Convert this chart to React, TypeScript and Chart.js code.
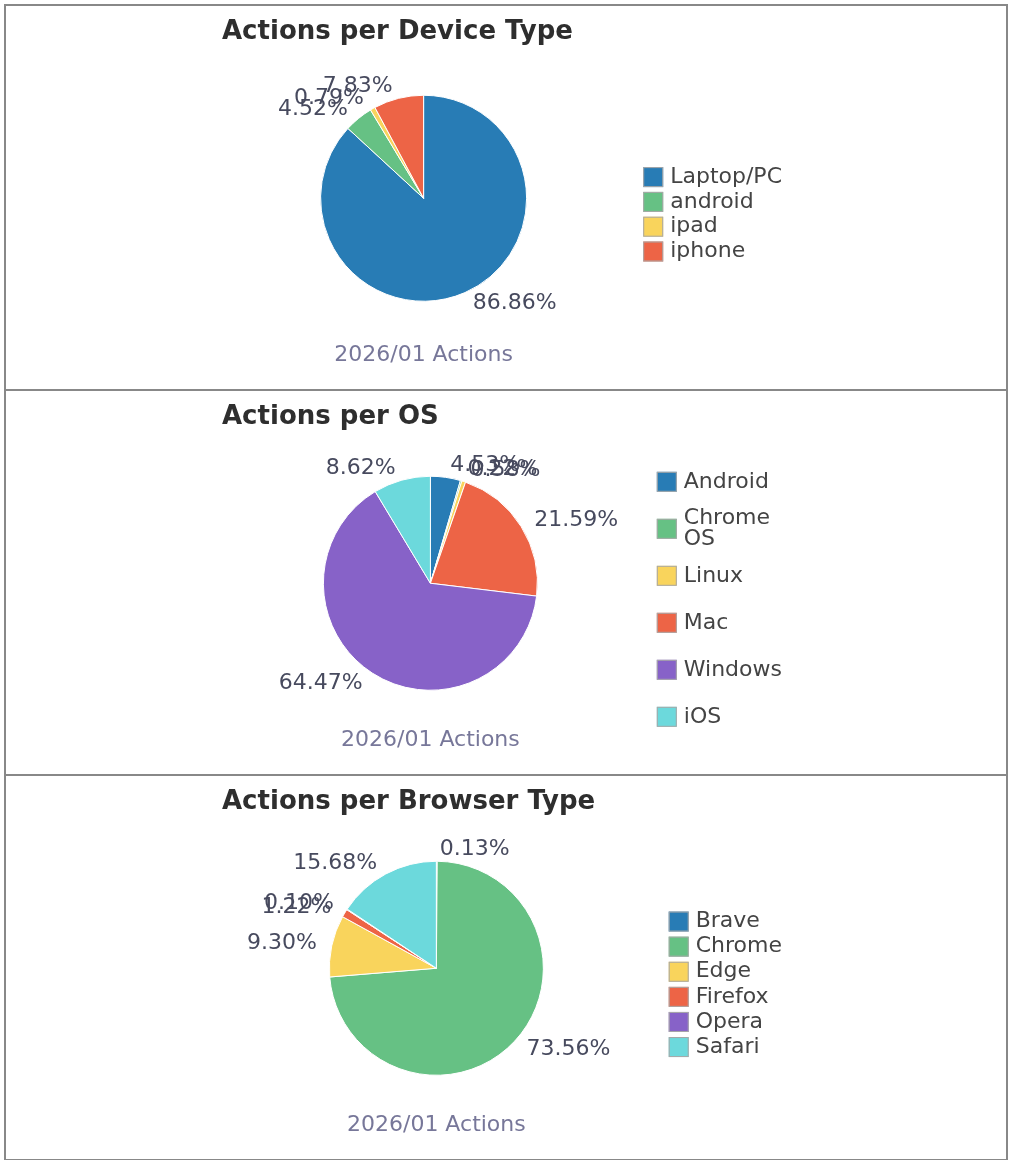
import React, { useEffect, useRef } from 'react';
import { Chart, registerables } from 'chart.js';

Chart.register(...registerables);

const FONT = "'DejaVu Sans', Verdana, sans-serif";

const deviceLabels = ['Laptop/PC', 'android', 'ipad', 'iphone'];
const deviceValues = [86.86, 4.52, 0.79, 7.83];

const osLabels = ['Android', 'Chrome OS', 'Linux', 'Mac', 'Windows', 'iOS'];
const osValues = [4.53, 0.22, 0.58, 21.59, 64.47, 8.62];

const browserLabels = ['Brave', 'Chrome', 'Edge', 'Firefox', 'Opera', 'Safari'];
const browserValues = [0.13, 73.56, 9.3, 1.22, 0.1, 15.68];

const SUBTITLE = '2026/01 Actions';

const BLUE = '#287cb5';
const GREEN = '#66c184';
const YELLOW = '#f9d45c';
const RED = '#ed6446';
const PURPLE = '#8762c8';
const CYAN = '#6cd9dc';

const deviceColors = [BLUE, GREEN, YELLOW, RED];
const osColors = [BLUE, GREEN, YELLOW, RED, PURPLE, CYAN];
const browserColors = [BLUE, GREEN, YELLOW, RED, PURPLE, CYAN];

const LABEL_COLOR = '#474a5e';
const LEGEND_COLOR = '#444444';
const W = 1000;
const H = 383;

function wrapText(ctx: CanvasRenderingContext2D, text: string, maxW: number): string[] {
  const words = text.split(' ');
  if (words.length < 2 || ctx.measureText(text).width <= maxW) return [text];
  const lines: string[] = [];
  let cur = '';
  words.forEach((w) => {
    const test = cur ? cur + ' ' + w : w;
    if (cur && ctx.measureText(test).width > maxW) {
      lines.push(cur);
      cur = w;
    } else {
      cur = test;
    }
  });
  if (cur) lines.push(cur);
  return lines;
}

const sliceLabels = {
  id: 'sliceLabels',
  afterDatasetsDraw(chart: any) {
    const ctx = chart.ctx as CanvasRenderingContext2D;
    const meta = chart.getDatasetMeta(0);
    const vals = chart.data.datasets[0].data as number[];
    ctx.save();
    ctx.font = `22px ${FONT}`;
    ctx.fillStyle = LABEL_COLOR;
    ctx.textBaseline = 'middle';
    meta.data.forEach((arc: any, i: number) => {
      const p = arc.getProps(['x', 'y', 'startAngle', 'endAngle', 'outerRadius'], true);
      const mid = (p.startAngle + p.endAngle) / 2;
      const r = p.outerRadius + 12;
      const right = Math.cos(mid) >= -1e-9;
      const px = p.x + Math.cos(mid) * r + (right ? 3 : -3);
      const py = p.y + Math.sin(mid) * r;
      ctx.textAlign = right ? 'left' : 'right';
      ctx.fillText(vals[i].toFixed(2) + '%', px, py);
    });
    ctx.restore();
  },
};

function makeLegend(lines: string[][], colors: string[], step: number) {
  return {
    id: 'sideLegend',
    afterDraw(chart: any) {
      const ctx = chart.ctx as CanvasRenderingContext2D;
      const area = chart.chartArea;
      const boxX = area.right + 18;
      const centerY = 208.3;
      const n = lines.length;
      ctx.save();
      ctx.font = `22px ${FONT}`;
      ctx.textBaseline = 'middle';
      ctx.textAlign = 'left';
      lines.forEach((ls, i) => {
        const cy = centerY + (i - (n - 1) / 2) * step;
        ctx.fillStyle = colors[i];
        ctx.fillRect(boxX, cy - 10, 20, 20);
        ctx.strokeStyle = '#a8a8a8';
        ctx.lineWidth = 1;
        ctx.strokeRect(boxX + 0.5, cy - 9.5, 19, 19);
        ctx.fillStyle = LEGEND_COLOR;
        const lh = 21;
        ls.forEach((t, j) => {
          const ty = cy + (j - (ls.length - 1) / 2) * lh;
          ctx.fillText(t, boxX + 27, ty);
        });
      });
      ctx.restore();
    },
  };
}

type PanelProps = {
  title: string;
  labels: string[];
  values: number[];
  colors: string[];
  radius: number;
  step: number;
  first?: boolean;
};

function PiePanel({ title, labels, values, colors, radius, step, first }: PanelProps) {
  const ref = useRef<HTMLCanvasElement>(null);
  useEffect(() => {
    const m = document.createElement('canvas').getContext('2d')!;
    m.font = `22px ${FONT}`;
    const lines = labels.map((l) => wrapText(m, l, 105));
    const maxW = Math.max(...lines.flat().map((t) => m.measureText(t).width));
    const padR = 18 + 20 + 7 + maxW + 224;
    const chart = new Chart(ref.current!, {
      type: 'pie',
      data: {
        labels,
        datasets: [
          {
            data: values,
            backgroundColor: colors,
            borderColor: '#ffffff',
            borderWidth: 1,
            radius,
          } as any,
        ],
      },
      options: {
        responsive: false,
        animation: false,
        events: [],
        layout: { padding: { left: 216, right: padR, top: 0, bottom: 0 } },
        plugins: {
          legend: { display: false },
          tooltip: { enabled: false },
          title: {
            display: true,
            text: title,
            align: 'start',
            color: '#2e2e2e',
            font: { size: 26, weight: 'bold', family: FONT, lineHeight: 1.2 },
            padding: { top: 10.6, bottom: 9.4 },
          },
          subtitle: {
            display: true,
            text: SUBTITLE,
            position: 'bottom',
            fullSize: false,
            color: '#777799',
            font: { size: 22, family: FONT, lineHeight: 1.2 },
            padding: { top: 2.5, bottom: 20.8 },
          },
        },
      } as any,
      plugins: [sliceLabels, makeLegend(lines, colors, step)],
    });
    return () => chart.destroy();
  }, []);
  return (
    <div
      style={{
        width: W,
        height: H,
        border: '2px solid #888888',
        borderTop: first ? '2px solid #888888' : 'none',
        background: '#ffffff',
      }}
    >
      <canvas ref={ref} width={W} height={H} style={{ display: 'block', width: W, height: H }} />
    </div>
  );
}

export default function App() {
  return (
    <div style={{ position: 'absolute', left: 4, top: 4, width: 1004 }}>
      <PiePanel
        title="Actions per Device Type"
        labels={deviceLabels}
        values={deviceValues}
        colors={deviceColors}
        radius={103}
        step={24.8}
        first
      />
      <PiePanel
        title="Actions per OS"
        labels={osLabels}
        values={osValues}
        colors={osColors}
        radius={107}
        step={47}
      />
      <PiePanel
        title="Actions per Browser Type"
        labels={browserLabels}
        values={browserValues}
        colors={browserColors}
        radius={107}
        step={25.1}
      />
    </div>
  );
}
